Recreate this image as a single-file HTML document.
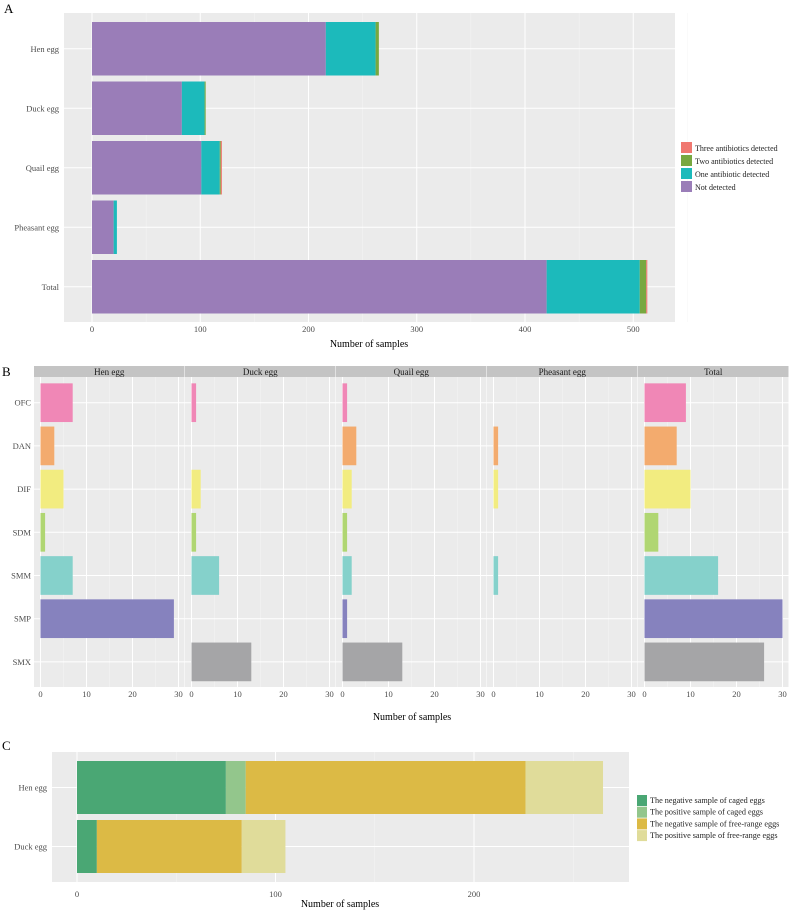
<!DOCTYPE html>
<html><head><meta charset="utf-8"><style>
body{margin:0;background:#fff}
svg{display:block;font-family:"Liberation Serif",serif}
</style></head><body>
<svg id="s" width="791" height="910" xmlns="http://www.w3.org/2000/svg"></svg>
<script>
// Panel A data
const aCats=["Hen egg","Duck egg","Quail egg","Pheasant egg","Total"];
const aNot=[216,83,101,20,420];
const aOne=[46,21,17,3,86];
const aTwo=[3,1,1,0,6];
const aThree=[0,0,1,0,1];
const aTicks=[0,100,200,300,400,500];
// Panel B data
const bFacets=["Hen egg","Duck egg","Quail egg","Pheasant egg","Total"];
const bDrugs=["OFC","DAN","DIF","SDM","SMM","SMP","SMX"];
const bHen=[7,3,5,1,7,29,0];
const bDuck=[1,0,2,1,6,0,13];
const bQuail=[1,3,2,1,2,1,13];
const bPheasant=[0,1,1,0,1,0,0];
const bTotal=[9,7,10,3,16,30,26];
const bTicks=[0,10,20,30];
// Panel C data
const cCats=["Hen egg","Duck egg"];
const cNegCaged=[75,10];
const cPosCaged=[10,0];
const cNegFree=[141,73];
const cPosFree=[39,22];
const cTicks=[0,100,200];

const S=document.getElementById('s');const NS='http://www.w3.org/2000/svg';
function el(t,a,txt){const e=document.createElementNS(NS,t);for(const k in a)e.setAttribute(k,a[k]);if(txt!==undefined)e.textContent=txt;S.appendChild(e);return e;}
function txt(x,y,s,size,anchor,fill){const e=el('text',{x:x,y:y,'font-size':size,'text-anchor':anchor||'start',fill:fill||'#4d4d4d'},s);return e;}

// ---------- Panel A ----------
let e=txt(4,13,'A',13,'start','#000');
const aX=v=>92+v*1.0825, aY=i=>22+i*59.5, aH=53.5;
e=el('rect',{x:64,y:13,width:611,height:309,fill:'#ebebeb'});
for(let t=50;t<=550;t+=100){el('line',{x1:aX(t),x2:aX(t),y1:13,y2:322,stroke:'#f6f6f6','stroke-width':0.5});}
aTicks.forEach(t=>{el('line',{x1:aX(t),x2:aX(t),y1:13,y2:322,stroke:'#fff','stroke-width':1});
 e=txt(aX(t),332,String(t),8.5,'middle');});
const aCols=['#9a7db8','#1cbabb','#78a840','#f07870'];
const aSer=[aNot,aOne,aTwo,aThree];
aCats.forEach((c,i)=>{const cy=aY(i)+aH/2;
 el('line',{x1:64,x2:675,y1:cy,y2:cy,stroke:'#fff','stroke-width':1});
 e=txt(59,cy+3,c,8.5,'end');
 let acc=0;aSer.forEach((s,k)=>{if(s[i]>0){e=el('rect',{x:aX(acc),y:aY(i),width:aX(acc+s[i])-aX(acc),height:aH,fill:aCols[k]});
 }acc+=s[i];});
});
e=txt(369,347,'Number of samples',10,'middle','#000');
const aLeg=['Three antibiotics detected','Two antibiotics detected','One antibiotic detected','Not detected'];
const aLegC=['#f07870','#78a840','#1cbabb','#9a7db8'];
aLeg.forEach((l,k)=>{e=el('rect',{x:681,y:142+k*13,width:11,height:11,fill:aLegC[k]});
 e=txt(695,151+k*13,l,8,'start','#222');});

// ---------- Panel B ----------
e=txt(2,376,'B',13,'start','#000');
const fx=[34,185,336,487,638], fw=150.5;
const bSer=[bHen,bDuck,bQuail,bPheasant,bTotal];
const bCols=['#f087b6','#f3ab6e','#f2ec80','#b0d672','#85d1cb','#8682be','#a5a5a7'];
const bRow=i=>402.7+i*43.2, bBH=38.7;
bFacets.forEach((f,j)=>{const x0=fx[j], bx=v=>x0+6.5+v*4.6;
 e=el('rect',{x:x0,y:366,width:fw,height:11,fill:'#c4c4c4'});
 e=txt(x0+fw/2,375,f,9,'middle','#1a1a1a');
 e=el('rect',{x:x0,y:377,width:fw,height:310,fill:'#ebebeb'});
 [5,15,25].forEach(t=>el('line',{x1:bx(t),x2:bx(t),y1:377,y2:687,stroke:'#f6f6f6','stroke-width':0.5}));
 bTicks.forEach(t=>{el('line',{x1:bx(t),x2:bx(t),y1:377,y2:687,stroke:'#fff','stroke-width':1});
  e=txt(bx(t),697,String(t),8.5,'middle');});
 bDrugs.forEach((d,i)=>{el('line',{x1:x0,x2:x0+fw,y1:bRow(i),y2:bRow(i),stroke:'#fff','stroke-width':1});
  const v=bSer[j][i];if(v>0){e=el('rect',{x:bx(0),y:bRow(i)-bBH/2,width:bx(v)-bx(0),height:bBH,fill:bCols[i]});
  }});
});
bDrugs.forEach((d,i)=>{e=txt(31,bRow(i)+3,d,8.5,'end');});
e=txt(412,720,'Number of samples',10,'middle','#000');

// ---------- Panel C ----------
e=txt(2,750,'C',13,'start','#000');
const cX=v=>77+v*1.985, cY=i=>761+i*59, cH=53;
e=el('rect',{x:52,y:752,width:577,height:130,fill:'#ebebeb'});
[50,150,250].forEach(t=>el('line',{x1:cX(t),x2:cX(t),y1:752,y2:882,stroke:'#f6f6f6','stroke-width':0.5}));
cTicks.forEach(t=>{el('line',{x1:cX(t),x2:cX(t),y1:752,y2:882,stroke:'#fff','stroke-width':1});
 e=txt(cX(t),897,String(t),8.5,'middle');});
const cSer=[cNegCaged,cPosCaged,cNegFree,cPosFree];
const cCols=['#4aa774','#93c68c','#dcba45','#e0dc9a'];
cCats.forEach((c,i)=>{const cy=cY(i)+cH/2;el('line',{x1:52,x2:629,y1:cy,y2:cy,stroke:'#fff','stroke-width':1});
 e=txt(47,cy+3,c,8.5,'end');
 let acc=0;cSer.forEach((s,k)=>{if(s[i]>0){e=el('rect',{x:cX(acc),y:cY(i),width:cX(acc+s[i])-cX(acc),height:cH,fill:cCols[k]});
 }acc+=s[i];});
});
e=txt(340,907,'Number of samples',10,'middle','#000');
const cLeg=['The negative sample of caged eggs','The positive sample of caged eggs','The negative sample of free-range eggs','The positive sample of free-range eggs'];
cLeg.forEach((l,k)=>{e=el('rect',{x:637,y:795+k*11.7,width:10,height:11,fill:cCols[k]});
 e=txt(650,803+k*11.7,l,8.2,'start','#222');});
</script>
</body></html>
